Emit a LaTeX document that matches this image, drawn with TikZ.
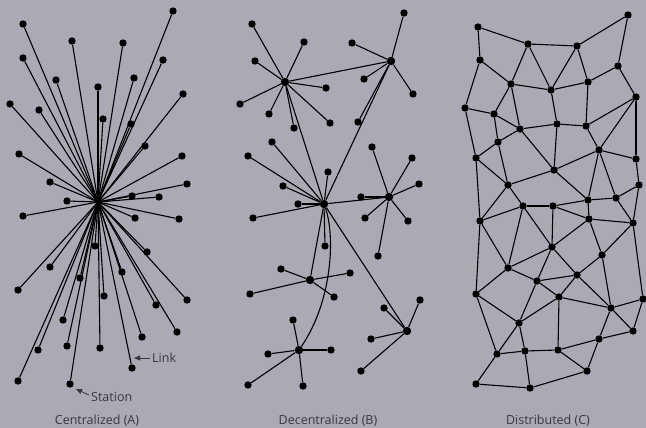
\documentclass[tikz,border=0pt]{standalone}
\usepackage{fontspec}
\setmainfont{Open Sans}
\usetikzlibrary{arrows.meta}
\definecolor{bgcol}{RGB}{170,170,181}
\definecolor{txtcol}{RGB}{55,55,60}
\tikzset{
  dot/.style={circle,fill=black,inner sep=0pt,minimum size=7.4pt},
  hub/.style={circle,fill=black,inner sep=0pt,minimum size=8.4pt},
  link/.style={line width=1.1pt,black},
  caption/.style={text=txtcol,font=\fontsize{12.5}{14}\selectfont,inner sep=0pt},
  pointer/.style={line width=0.8pt,txtcol,-{Triangle[length=6pt,width=5pt]}}
}
\begin{document}
\begin{tikzpicture}[x=1pt,y=-1pt]
\fill[bgcol] (0,0) rectangle (646,428);
\useasboundingbox (0,0) rectangle (646,428);

% ---------- Centralized (A) ----------
\coordinate (c0) at (98,202);
\foreach \x/\y [count=\i] in {173/11,23/24,72/41,123/43,23/58,163/60,56/80,134/78,98/87,183/94,10/104,39/110,103/119,131/124,145/146,19/154,182/156,50/182,187/184,132/196,159/197,67/201,23/216,135/218,179/219,95/246,147/252,50/267,80/278,122/272,18/290,104/296,187/300,156/305,63/320,177/332,142/337,67/346,100/348,38/350,132/368,18/381,70/384}
{
  \node[dot] (c\i) at (\x,\y) {};
  \draw[link] (c0) -- (c\i);
}
\node[caption,anchor=west] (linklbl) at (152,358) {Link};
\coordinate (linktip) at (134,358);
\draw[pointer] (linklbl.west) ++(-2,0) -- (linktip);
\node[caption,anchor=west] (stlbl) at (91,397) {Station};
\coordinate (ststart) at (89,395);
\coordinate (sttip) at (76,389);
\draw[pointer] (ststart) -- (sttip);
\node[caption] (capA) at (97,421) {Centralized (A)};

% ---------- Decentralized (B) ----------
\node[hub] (hA) at (285,82) {};
\node[hub] (hB) at (391,61) {};
\node[hub] (hC) at (389,197) {};
\node[hub] (hD) at (324,204) {};
\node[hub] (hE) at (310,280) {};
\node[hub] (hF) at (407,331) {};
\node[hub] (hG) at (299,350) {};
\draw[link] (hA) -- (hB);
\draw[link] (hA) -- (hD);
\draw[link] (hB) -- (hD);
\draw[link] (hD) -- (hC);
\draw[link] (hD) -- (hE);
\draw[link] (hD) -- (hF);
\draw[link] (hD) .. controls (335,235) and (333,300) .. (hG);
\foreach \h/\x/\y [count=\i] in {A/252/24,A/304/42,A/255/61,A/326/88,A/240/104,A/269/114,A/294/128,A/330/123,
  B/404/13,B/352/43,B/364/79,B/413/94,B/358/122,
  C/372/147,C/412/158,C/419/184,C/361/197,C/365/218,C/408/221,C/378/256,
  D/272/142,D/248/156,D/328/172,D/283/186,D/298/204,D/253/218,D/325/246,
  E/281/269,E/350/273,E/250/294,E/334/297,
  F/420/300,F/384/308,F/371/339,F/361/371,
  G/293/320,G/268/354,G/331/350,G/248/385,G/303/386}
{
  \node[dot] (l\i) at (\x,\y) {};
  \draw[link] (h\h) -- (l\i);
}
\node[caption] (capB) at (328,421) {Decentralized (B)};

% ---------- Distributed (C) ----------
\foreach \n/\x/\y in {n1/628/15,n2/478/27,n3/528/44,n4/577/46,n5/480/60,n6/618/66,n7/511/84,n8/588/82,n9/551/90,n10/636/97,
  n11/465/108,n12/494/114,n13/557/124,n14/586/126,n15/520/129,n16/498/142,n17/599/150,n18/476/158,n19/636/159,n20/554/170,
  n21/508/185,n22/639/185,n23/588/200,n24/616/198,n25/523/206,n26/553/206,
  m1/480/221,m2/589/219,m3/633/223,m4/552/247,m5/602/255,m6/508/268,m7/577/275,m8/537/281,m9/476/294,m10/559/297,
  m11/643/299,m12/611/308,m13/519/323,m14/633/331,m15/599/339,m16/497/354,m17/525/351,m18/558/350,m19/587/371,
  m20/476/384,m21/530/388}
{
  \node[dot] (\n) at (\x,\y) {};
}
\foreach \a/\b in {n2/n3,n3/n4,n4/n1,n2/n5,n1/n6,n5/n7,n3/n7,n3/n9,n4/n9,n4/n8,n8/n6,n7/n9,n9/n8,n6/n10,n5/n11,
  n7/n12,n11/n12,n7/n15,n12/n15,n9/n13,n8/n14,n15/n13,n13/n14,n14/n10,n10/n17,n10/n19,n14/n17,n12/n16,n15/n16,
  n11/n18,n16/n18,n16/n21,n15/n20,n13/n20,n20/n17,n17/n19,n19/n22,n18/n21,n21/n20,n17/n23,n17/n24,n23/n24,n24/n22,
  n20/n23,n21/n25,n25/n26,n26/n23,n18/m1,n21/m1,n22/m3,n24/m3,n23/m2,n25/m1,
  n25/m4,n25/m6,n26/m4,n26/m2,m2/m3,m2/m4,m2/m5,m3/m5,m3/m11,m1/m6,m1/m9,m4/m6,m4/m8,m4/m7,m5/m7,m5/m12,m6/m8,m6/m9,
  m8/m7,m8/m10,m7/m10,m7/m12,m8/m13,m10/m13,m10/m12,m11/m12,m11/m14,m12/m14,m12/m15,m14/m15,m9/m13,m9/m16,m13/m16,
  m13/m17,m10/m18,m16/m17,m17/m18,m18/m15,m18/m19,m15/m19,m16/m20,m17/m21,m20/m21,m21/m19}
{
  \draw[link] (\a) -- (\b);
}
\node[caption] (capC) at (548,421) {Distributed (C)};
\end{tikzpicture}
\end{document}
